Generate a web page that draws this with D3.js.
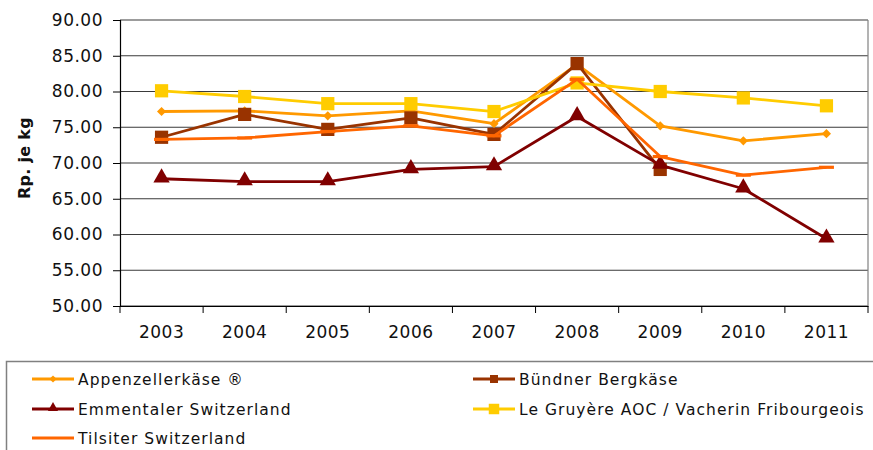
<!DOCTYPE html>
<html>
<head>
<meta charset="utf-8">
<script src="https://cdn.jsdelivr.net/npm/d3@7"></script>
<style>
  body { margin: 0; background: #fff; }
  svg { display: block; }
  .tick text { font-family: "DejaVu Sans", Verdana, sans-serif; }
</style>
</head>
<body>
<svg id="chart" width="873" height="450"></svg>
<script>
// values (Rp. je kg)
var years = ["2003", "2004", "2005", "2006", "2007", "2008", "2009", "2010", "2011"];
var yTicks = [50, 55, 60, 65, 70, 75, 80, 85, 90];

var appenzeller = [77.2, 77.3, 76.6, 77.3, 75.5, 83.8, 75.2, 73.1, 74.1];
var buendner    = [73.6, 76.8, 74.7, 76.3, 74.0, 83.9, 69.1, null, null];
var emmentaler  = [67.8, 67.4, 67.4, 69.1, 69.5, 76.5, 69.7, 66.4, 59.4];
var gruyere     = [80.1, 79.3, 78.3, 78.3, 77.2, 81.2, 80.0, 79.1, 78.0];
var tilsiter    = [73.3, 73.5, 74.4, 75.2, 73.8, 81.7, 70.9, 68.3, 69.4];

var seriesNames = ["Appenzellerkäse ®", "Bündner Bergkäse", "Emmentaler Switzerland",
                   "Le Gruyère AOC / Vacherin Fribourgeois", "Tilsiter Switzerland"];

var series = [
  { name: seriesNames[0], values: appenzeller, color: "#ff9900", marker: "diamond" },
  { name: seriesNames[1], values: buendner,    color: "#993300", marker: "square" },
  { name: seriesNames[2], values: emmentaler,  color: "#800000", marker: "triangle" },
  { name: seriesNames[3], values: gruyere,     color: "#ffcc00", marker: "square" },
  { name: seriesNames[4], values: tilsiter,    color: "#ff6600", marker: "dash" }
];

var plot = { left: 120, right: 868, top: 20, bottom: 306 };

var svg = d3.select("#chart");

var x = d3.scaleBand()
  .domain(years)
  .range([plot.left, plot.right]);

var y = d3.scaleLinear()
  .domain([50, 90])
  .range([plot.bottom, plot.top]);

// grid
svg.append("g")
  .selectAll("line")
  .data(yTicks)
  .enter().append("line")
  .attr("x1", plot.left)
  .attr("x2", plot.right)
  .attr("y1", function(d){ return y(d); })
  .attr("y2", function(d){ return y(d); })
  .style("stroke", "#3a3a3a")
  .style("stroke-width", 1.2);

// right border
svg.append("line")
  .attr("x1", plot.right).attr("x2", plot.right)
  .attr("y1", plot.top).attr("y2", plot.bottom)
  .style("stroke", "#808080")
  .style("stroke-width", 1.2);

// y axis
var yAxis = svg.append("g")
  .attr("transform", "translate(" + plot.left + ",0)")
  .call(d3.axisLeft(y)
    .tickValues(yTicks)
    .tickFormat(d3.format(".2f"))
    .tickSize(7)
    .tickPadding(10));

// x axis, ticks on the band edges
var xAxis = svg.append("g")
  .attr("transform", "translate(0," + plot.bottom + ")")
  .call(d3.axisBottom(x).tickSize(0).tickPadding(20));

xAxis.selectAll(".edge")
  .data(d3.range(years.length + 1))
  .enter().append("line")
  .attr("class", "edge")
  .attr("x1", function(i){ return plot.left + i * x.step(); })
  .attr("x2", function(i){ return plot.left + i * x.step(); })
  .attr("y1", 0)
  .attr("y2", 7)
  .style("stroke", "#000");

[yAxis, xAxis].forEach(function(g){
  g.select(".domain").style("stroke", "#000").style("stroke-width", 1.2);
  g.selectAll(".tick line").style("stroke", "#000");
  g.selectAll(".tick text")
    .style("font-size", "17px")
    .style("letter-spacing", "0.5px")
    .style("fill", "#111");
});

// axis title
svg.append("text")
  .attr("transform", "translate(30,158) rotate(-90)")
  .attr("text-anchor", "middle")
  .style("font-family", "'DejaVu Sans', Verdana, sans-serif")
  .style("font-weight", "bold")
  .style("font-size", "16px")
  .style("letter-spacing", "0.3px")
  .style("fill", "#111")
  .text("Rp. je kg");

// markers
var drawMarker = function(g, type, color, big){
  if (type === "dash") {
    var w = big ? 15 : 0;
    g.append("rect")
      .attr("x", -w / 2).attr("y", -1.6)
      .attr("width", w).attr("height", 3.2)
      .style("fill", color);
    return;
  }
  var size, shape, rot = 0;
  if (type === "diamond") { shape = d3.symbolSquare; size = big ? 42 : 26; rot = 45; }
  if (type === "square")  { shape = d3.symbolSquare; size = big ? 175 : (color === "#ffcc00" ? 110 : 64); }
  if (type === "triangle"){ shape = d3.symbolTriangle; size = big ? 115 : 45; }
  g.append("path")
    .attr("d", d3.symbol().type(shape).size(size)())
    .attr("transform", "rotate(" + rot + ")" + (type === "triangle" ? " translate(0,-1)" : ""))
    .style("fill", color);
};

var line = d3.line()
  .defined(function(d){ return d.v !== null; })
  .x(function(d){ return x(d.year) + x.bandwidth() / 2; })
  .y(function(d){ return y(d.v); });

series.forEach(function(s){
  var pts = years.map(function(yr, i){ return { year: yr, v: s.values[i] }; });
  var g = svg.append("g");
  g.append("path")
    .attr("d", line(pts))
    .style("fill", "none")
    .style("stroke", s.color)
    .style("stroke-width", 2.8)
    .style("stroke-linejoin", "round");
  pts.filter(function(d){ return d.v !== null; }).forEach(function(d){
    var m = g.append("g")
      .attr("transform", "translate(" + (x(d.year) + x.bandwidth() / 2) + "," + y(d.v) + ")");
    drawMarker(m, s.marker, s.color, true);
  });
});

// legend
svg.append("rect")
  .attr("x", 6.5).attr("y", 361.5)
  .attr("width", 880).attr("height", 100)
  .style("fill", "#fff")
  .style("stroke", "#808080")
  .style("stroke-width", 1.5);

var legendCols = [32, 473];
var legendRows = [379, 409, 438];

series.forEach(function(s, i){
  var lx = legendCols[i % 2], ly = legendRows[Math.floor(i / 2)];
  var g = svg.append("g").attr("transform", "translate(" + lx + "," + ly + ")");
  g.append("line")
    .attr("x1", 0).attr("x2", 42)
    .attr("y1", 0).attr("y2", 0)
    .style("stroke", s.color)
    .style("stroke-width", 2.8);
  var m = g.append("g").attr("transform", "translate(21,0)");
  drawMarker(m, s.marker, s.color, false);
  g.append("text")
    .attr("x", 46)
    .attr("y", 5.5)
    .style("font-family", "'DejaVu Sans', Verdana, sans-serif")
    .style("font-size", "15.5px")
    .style("letter-spacing", "1.05px")
    .style("fill", "#111")
    .text(s.name);
});
</script>
</body>
</html>
